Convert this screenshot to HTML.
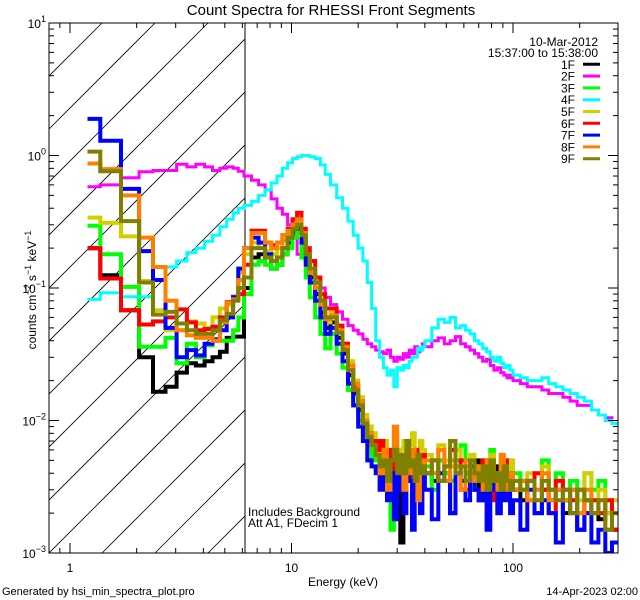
<!DOCTYPE html>
<html><head><meta charset="utf-8"><style>
html,body{margin:0;padding:0;background:#fff;}
svg{display:block;font-family:"Liberation Sans",sans-serif;}
</style></head><body>
<svg id="chart" width="640" height="600" viewBox="0 0 640 600" xmlns="http://www.w3.org/2000/svg">
<defs><clipPath id="plotClip"><rect x="49" y="23" width="569" height="530"/></clipPath>
<clipPath id="hatchClip"><rect x="49" y="23" width="196" height="530"/></clipPath></defs>
<rect x="0" y="0" width="640" height="600" fill="#fff"/>
<text x="331" y="15" font-size="15" text-anchor="middle">Count Spectra for RHESSI Front Segments</text>
<g id="hatch" clip-path="url(#hatchClip)"></g>
<line x1="245" y1="23" x2="245" y2="553" stroke="#000" stroke-width="1"/>
<g id="series" clip-path="url(#plotClip)"></g>
<g id="axes"></g>
<text transform="translate(36,290) rotate(-90)" font-size="12" text-anchor="middle">counts cm<tspan font-size="9" dy="-5">−2</tspan><tspan dy="5"> s</tspan><tspan font-size="9" dy="-5">−1</tspan><tspan dy="5"> keV</tspan><tspan font-size="9" dy="-5">−1</tspan></text>
<text x="343" y="586" font-size="12" text-anchor="middle">Energy (keV)</text>
<text x="2" y="595" font-size="11">Generated by hsi_min_spectra_plot.pro</text>
<text x="638" y="595" font-size="11" text-anchor="end">14-Apr-2023 02:00</text>
<text x="598" y="46" font-size="12" text-anchor="end">10-Mar-2012</text>
<text x="598" y="57" font-size="12" text-anchor="end">15:37:00 to 15:38:00</text>
<text x="248" y="516" font-size="12">Includes Background</text>
<text x="248" y="527" font-size="12">Att A1, FDecim 1</text>
<g id="legend"></g>
</svg>
<script>
const lowEdges = [1.2,1.37,1.7,2.05,2.37,2.7,3.03,3.37,3.7,4.05,4.4,4.75,5.1,5.45,5.75,6.1];
const midEdges = [6.1,6.6,7.1,7.6,8.1,8.6,9.1,9.6,10.1,10.6,11.1,11.6,12.1,12.8,13.5,14.2,15];
const tailEdges = [15,16,17,18,19,20,21,22,23,24,25,26,27,28,29,30,31,32,33,34,35,36,37,38,39,40,43,46,49,52,55,58,61,64,67,70,73,76,79,82,85,88,91,94,97,100,108,116,125,135,145,156,168,181,195,210,226,243,261,280,300];
const seriesNames = ["1F","2F","3F","4F","5F","6F","7F","8F","9F"];
const seriesColors = ["#000000","#ff00ff","#00ff00","#00ffff","#d0d000","#ff0000","#0000ff","#ff8000","#808000"];
const low1F = [0.2,0.125,0.068,0.030,0.0165,0.018,0.023,0.027,0.026,0.028,0.030,0.033,0.042,0.043,0.043];
const low2F = [0.58,0.6,0.68,0.755,0.77,0.77,0.86,0.82,0.86,0.82,0.77,0.8,0.82,0.8,0.76];
const low3F = [0.295,0.18,0.102,0.036,0.036,0.042,0.027,0.038,0.030,0.037,0.040,0.040,0.040,0.048,0.06];
const low4F = [0.082,0.092,0.086,0.086,0.115,0.144,0.16,0.185,0.2,0.225,0.25,0.29,0.33,0.37,0.40];
const low5F = [0.34,0.31,0.245,0.113,0.068,0.048,0.048,0.056,0.054,0.05,0.06,0.07,0.075,0.082,0.13];
const low6F = [0.199,0.118,0.068,0.053,0.056,0.06,0.069,0.055,0.048,0.049,0.051,0.06,0.078,0.086,0.09];
const low7F = [1.89,1.29,0.56,0.19,0.115,0.05,0.030,0.034,0.031,0.038,0.041,0.048,0.06,0.085,0.14];
const low8F = [0.87,0.79,0.5,0.24,0.144,0.08,0.048,0.044,0.042,0.042,0.040,0.055,0.077,0.082,0.115];
const low9F = [1.07,0.76,0.32,0.11,0.063,0.066,0.054,0.048,0.045,0.045,0.048,0.057,0.064,0.08,0.10];
const mid1F = [0.1,0.17,0.18,0.17,0.14,0.15,0.18,0.22,0.26,0.28,0.22,0.16,0.12,0.09,0.065,0.05];
const mid2F = [0.7,0.65,0.6,0.55,0.47,0.4,0.36,0.3,0.25,0.18,0.17,0.16,0.14,0.12,0.1,0.085];
const mid3F = [0.09,0.15,0.16,0.15,0.14,0.15,0.18,0.2,0.24,0.26,0.17,0.12,0.085,0.06,0.045,0.035];
const mid4F = [0.42,0.45,0.5,0.55,0.62,0.7,0.8,0.88,0.95,0.98,1.0,1.0,0.98,0.95,0.85,0.72];
const mid5F = [0.18,0.22,0.2,0.19,0.18,0.2,0.23,0.26,0.3,0.3,0.25,0.18,0.13,0.1,0.075,0.055];
const mid6F = [0.15,0.27,0.27,0.22,0.21,0.22,0.25,0.28,0.33,0.37,0.28,0.2,0.16,0.12,0.09,0.07];
const mid7F = [0.2,0.24,0.22,0.18,0.16,0.17,0.2,0.24,0.28,0.3,0.22,0.15,0.11,0.08,0.06,0.045];
const mid8F = [0.2,0.26,0.26,0.22,0.2,0.22,0.25,0.27,0.3,0.33,0.26,0.18,0.13,0.1,0.075,0.058];
const mid9F = [0.12,0.2,0.2,0.17,0.16,0.17,0.2,0.24,0.28,0.3,0.25,0.18,0.14,0.11,0.08,0.06];
const tail2F = [0.075,0.066,0.058,0.052,0.048,0.045,0.041,0.038,0.036,0.034,0.033,0.032,0.034,0.030,0.028,0.030,0.029,0.032,0.030,0.034,0.032,0.036,0.033,0.035,0.038,
 0.036,0.04,0.042,0.038,0.04,0.043,0.038,0.036,0.034,0.032,0.030,0.028,0.029,0.026,0.024,0.025,0.023,0.022,0.021,0.022,
 0.02,0.019,0.018,0.018,0.017,0.016,0.016,0.015,0.014,0.013,0.013,0.012,0.011,0.0105,0.0095];
const tail4F = [0.6,0.48,0.4,0.32,0.25,0.2,0.16,0.11,0.07,0.04,0.03,0.025,0.022,0.024,0.018,0.025,0.024,0.026,0.025,0.028,0.03,0.03,0.035,0.034,0.036,
 0.04,0.05,0.058,0.055,0.06,0.05,0.052,0.048,0.045,0.04,0.038,0.035,0.033,0.03,0.028,0.03,0.027,0.025,0.026,0.024,
 0.022,0.021,0.02,0.02,0.021,0.019,0.018,0.017,0.016,0.015,0.014,0.012,0.011,0.010,0.0095];
const tail1F_milli = [55,42,32,22,16,12,9,7,6,5.5,4,5,3,5.5,4,6,1.2,5,4.5,3.5,5,4,2.5,5,4.5,
 4,3.5,5,4,2,4.5,3.5,4,3,5,2.5,4,3.5,3,4.5,2,3.5,3,4,3,
 3,2.5,3.5,2,3,2.5,3,2,3,1.5,2.5,2,1.8,2,1.5];
const tail3F_milli = [45,32,25,17,13,10,7,9,5,6,4.5,6,4,1.5,5.5,4,5,3.5,6,4,5,4.5,3.5,5,4,
 4.5,3,5,4,3.5,5,6.5,4,3,4.5,3.5,5,3,6,4,3,4,3.5,5,3,
 4,3,3.5,2.5,5,3,4,2.5,3.5,2,4,3,3.5,2.5,2];
const tail5F_milli = [65,50,38,28,20,15,11,9,8,7,5,7,6,4.5,8,5.5,6,7,5,6.5,8,6,5,7,6,
 5.5,4,6.5,5,4.5,6,5,4.5,5.5,4,4.5,5,4,5.5,4,3.5,4.5,4,3,5,
 3.5,3,4,3,4.5,3,3.5,2.5,3,2.5,4,2.5,3,2,2.5];
const tail6F_milli = [70,52,38,26,18,14,10,8,7,6,7,5,4,6,4,5,5.5,4.5,6,3.5,5,6,4,5,5.5,
 4,5,3.5,4.5,6,4,5,3,4.5,4,3.5,5,3,4,2.5,4,3.5,5,3,4,
 3,3.5,2.5,4,3,2,3.5,3,2.5,3,2,2.5,2,2.5,1.5];
const tail7F_milli = [50,38,28,19,13,9,7,5,4.5,4,3,5,2.5,4,1.8,4.5,3,2,5,3.5,1.5,4,3,2,4.5,
 3,1.8,4,3.5,2,4,3,2.5,4.5,3,2.5,4,1.5,3.5,3,2,3,2.5,3.5,2,
 2.5,1.5,3,2,2.5,2,1.2,2.5,2,1.5,2,1.2,1.5,1,1.2];
const tail8F_milli = [62,48,36,26,19,14,10,8,6.5,5.5,4,6,3,5,9,4.5,5,3,5.5,4,6,4.5,2.5,5,4,
 5,4,6,3.5,5,4.5,3,5,4,3.5,4.5,3,5,3.5,4,3,5.5,3.5,3,4,
 3,3.5,2.5,3,4,2.5,3,2.5,3,2,3,2,2.5,1.5,2];
const tail9F_milli = [60,46,34,24,17,13,9.5,7.5,6.5,5.5,4.5,5,3.5,5,6,4,5.5,4,7,4.5,5,3.5,5.5,4,4.5,
 4,5,3.5,4.5,7,4,4.5,3.5,5,4,3.5,4.5,3,5,3.5,4,3,4.5,3.5,3,
 3.5,3,3.5,2.5,3.5,3,2.5,3,2,3,2.5,2,2.5,1.5,2];
const yTickExps = [-3,-2,-1,0,1];
const xTickLabels = ["1","10","100"];
const xTickValues = [1,10,100];

const NS = "http://www.w3.org/2000/svg";
const PL=49, PR=618, PT=23, PB=553;
const X0=70, XDEC=221.5, Y0=155.5, YDEC=132.5;
function xs(e){return X0+XDEC*Math.log10(e);}
function ys(v){return Y0-YDEC*Math.log10(Math.max(v,1e-4));}
function mk(tag,attrs,parent){const el=document.createElementNS(NS,tag);for(const k in attrs)el.setAttribute(k,attrs[k]);parent.appendChild(el);return el;}
const milli = a => a.map(v=>v*1e-3);
const edges = lowEdges.concat(midEdges.slice(1), tailEdges.slice(1));
const seriesValues = [
 low1F.concat(mid1F, milli(tail1F_milli)),
 low2F.concat(mid2F, tail2F),
 low3F.concat(mid3F, milli(tail3F_milli)),
 low4F.concat(mid4F, tail4F),
 low5F.concat(mid5F, milli(tail5F_milli)),
 low6F.concat(mid6F, milli(tail6F_milli)),
 low7F.concat(mid7F, milli(tail7F_milli)),
 low8F.concat(mid8F, milli(tail8F_milli)),
 low9F.concat(mid9F, milli(tail9F_milli))
];
const seriesWidths = [4,3,4,3,4,4,4,4,4];

// hatch
const hatch=document.getElementById('hatch');
for(let k=-12;k<6;k++){
  const x1=49+k*53, y1=553;
  const ln=mk('line',{x1:x1,y1:y1,x2:x1+530,y2:23,stroke:'#000','stroke-width':0.8},hatch);
  
  
}

// series
const sg=document.getElementById('series');
seriesValues.forEach((vals,si)=>{
  let d='';
  for(let i=0;i<vals.length;i++){
    const xa=xs(edges[i]).toFixed(1), xb=xs(edges[i+1]).toFixed(1), y=Math.min(ys(vals[i]),PB+6).toFixed(1);
    d += (i===0?'M':'V')+(i===0?xa+','+y:y)+' H'+xb+' ';
  }
  const p=mk('path',{d:d,fill:'none',stroke:seriesColors[si],'stroke-width':seriesWidths[si],'stroke-linejoin':'miter'},sg);
  
  
});

// axes
const ax=document.getElementById('axes');
const frame=mk('rect',{x:PL,y:PT,width:PR-PL,height:PB-PT,fill:'none',stroke:'#000','stroke-width':1},ax);


for(let dec=-1;dec<3;dec++){
  for(let m=1;m<10;m++){
    const e=m*Math.pow(10,dec), x=xs(e);
    if(x<PL||x>PR)continue;
    const len=(m===1)?10:5;
    const t1=mk('line',{x1:x,y1:PB,x2:x,y2:PB-len,stroke:'#000'},ax);
    
    
    const t2=mk('line',{x1:x,y1:PT,x2:x,y2:PT+len,stroke:'#000'},ax);
    
    
  }
}
xTickValues.forEach((v,i)=>{
  const t=mk('text',{x:xs(v),y:572,'font-size':12,'text-anchor':'middle'},ax);
  t.textContent=xTickLabels[i];
  
  
});
for(let dec=-3;dec<1;dec++){
  for(let m=1;m<=10;m++){
    const y=ys(m*Math.pow(10,dec));
    const len=(m===1||m===10)?10:5;
    const t1=mk('line',{x1:PL,y1:y,x2:PL+len,y2:y,stroke:'#000'},ax);
    
    
    const t2=mk('line',{x1:PR,y1:y,x2:PR-len,y2:y,stroke:'#000'},ax);
    
    
  }
}
yTickExps.forEach(ex=>{
  const y=ys(Math.pow(10,ex));
  const t=mk('text',{x:PL-3,y:y+5,'font-size':12,'text-anchor':'end'},ax);
  
  
  const a=document.createElementNS(NS,'tspan');a.textContent='10';t.appendChild(a);
  const b=document.createElementNS(NS,'tspan');b.setAttribute('dy','-6');b.setAttribute('font-size','9');b.textContent=(ex<0?'−':'')+Math.abs(ex);t.appendChild(b);
});

// legend
const lg=document.getElementById('legend');
seriesNames.forEach((n,i)=>{
  const y=64.3+i*11.8;
  const t=mk('text',{x:575,y:y+4.5,'font-size':12,'text-anchor':'end'},lg);
  t.textContent=n;
  
  
  const l=mk('line',{x1:583,y1:y,x2:600,y2:y,stroke:seriesColors[i],'stroke-width':3},lg);
  
  
});
</script>
</body></html>
